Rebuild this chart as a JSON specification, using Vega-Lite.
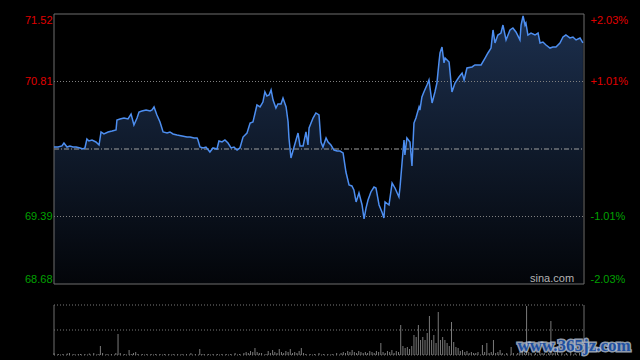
{
  "$schema": "https://vega.github.io/schema/vega-lite/v6.json",
  "width": 530,
  "height": 341,
  "autosize": {"type": "none"},
  "padding": {"left": 54, "top": 14, "right": 56, "bottom": 5},
  "background": "#000000",
  "config": {"view": {"stroke": null}, "axis": {"labelFont": "Liberation Sans", "labelFontSize": 11}},
  "datasets": {
    "price": [
      {"t":0,"p":70.121},{"t":1.8,"p":70.121},{"t":3.6,"p":70.132},{"t":4.5,"p":70.163},{"t":5.9,"p":70.121},{"t":7.2,"p":70.132},{"t":8.6,"p":70.121},{"t":10.0,"p":70.121},{"t":11.8,"p":70.111},{"t":13.1,"p":70.100},{"t":14.0,"p":70.111},{"t":14.9,"p":70.205},{"t":15.8,"p":70.184},{"t":17.2,"p":70.195},{"t":19.0,"p":70.174},{"t":20.4,"p":70.142},{"t":21.3,"p":70.279},{"t":22.6,"p":70.258},{"t":24.5,"p":70.279},{"t":26.3,"p":70.289},{"t":28.1,"p":70.300},{"t":28.5,"p":70.405},{"t":29.9,"p":70.416},{"t":31.7,"p":70.426},{"t":33.5,"p":70.416},{"t":34.9,"p":70.468},{"t":36.2,"p":70.352},{"t":37.6,"p":70.426},{"t":38.5,"p":70.489},{"t":39.8,"p":70.500},{"t":41.7,"p":70.510},{"t":43.5,"p":70.500},{"t":44.4,"p":70.510},{"t":45.3,"p":70.542},{"t":46.6,"p":70.458},{"t":48.0,"p":70.384},{"t":49.4,"p":70.279},{"t":51.2,"p":70.268},{"t":52.5,"p":70.279},{"t":53.9,"p":70.258},{"t":55.7,"p":70.247},{"t":58.0,"p":70.237},{"t":60.2,"p":70.226},{"t":61.6,"p":70.226},{"t":63.4,"p":70.216},{"t":64.8,"p":70.216},{"t":65.2,"p":70.195},{"t":66.1,"p":70.121},{"t":67.5,"p":70.111},{"t":68.8,"p":70.121},{"t":70.6,"p":70.068},{"t":72.0,"p":70.111},{"t":73.8,"p":70.100},{"t":74.7,"p":70.184},{"t":76.1,"p":70.174},{"t":77.4,"p":70.195},{"t":78.8,"p":70.163},{"t":80.2,"p":70.111},{"t":81.5,"p":70.121},{"t":82.9,"p":70.089},{"t":84.2,"p":70.111},{"t":85.6,"p":70.226},{"t":87.4,"p":70.268},{"t":88.8,"p":70.373},{"t":90.1,"p":70.384},{"t":91.9,"p":70.563},{"t":93.3,"p":70.542},{"t":94.6,"p":70.594},{"t":95.5,"p":70.700},{"t":96.4,"p":70.657},{"t":97.4,"p":70.668},{"t":98.3,"p":70.721},{"t":99.2,"p":70.615},{"t":100.5,"p":70.531},{"t":101.4,"p":70.573},{"t":102.8,"p":70.573},{"t":103.7,"p":70.636},{"t":105.1,"p":70.542},{"t":106.0,"p":70.384},{"t":106.4,"p":70.216},{"t":107.3,"p":70.005},{"t":108.7,"p":70.121},{"t":109.6,"p":70.195},{"t":110.5,"p":70.268},{"t":111.4,"p":70.132},{"t":112.8,"p":70.132},{"t":114.1,"p":70.279},{"t":115.0,"p":70.142},{"t":115.5,"p":70.321},{"t":117.3,"p":70.426},{"t":118.6,"p":70.479},{"t":120.0,"p":70.458},{"t":120.9,"p":70.174},{"t":121.8,"p":70.121},{"t":123.2,"p":70.216},{"t":124.1,"p":70.174},{"t":125.4,"p":70.142},{"t":126.8,"p":70.089},{"t":128.2,"p":70.079},{"t":129.5,"p":70.079},{"t":130.9,"p":70.058},{"t":132.2,"p":69.858},{"t":133.6,"p":69.721},{"t":134.9,"p":69.711},{"t":135.8,"p":69.669},{"t":136.8,"p":69.543},{"t":138.1,"p":69.637},{"t":139.5,"p":69.511},{"t":140.4,"p":69.364},{"t":141.3,"p":69.479},{"t":142.2,"p":69.564},{"t":143.5,"p":69.648},{"t":144.9,"p":69.700},{"t":145.8,"p":69.690},{"t":147.2,"p":69.511},{"t":148.5,"p":69.437},{"t":149.4,"p":69.374},{"t":149.9,"p":69.543},{"t":151.7,"p":69.511},{"t":153.1,"p":69.742},{"t":154.4,"p":69.690},{"t":156.2,"p":69.595},{"t":156.7,"p":69.700},{"t":157.6,"p":69.953},{"t":158.5,"p":70.195},{"t":158.9,"p":70.037},{"t":159.8,"p":70.216},{"t":161.2,"p":70.174},{"t":162.1,"p":69.921},{"t":163.0,"p":70.373},{"t":163.9,"p":70.426},{"t":165.3,"p":70.542},{"t":165.7,"p":70.510},{"t":166.6,"p":70.647},{"t":167.5,"p":70.700},{"t":168.9,"p":70.773},{"t":169.8,"p":70.826},{"t":171.2,"p":70.584},{"t":172.5,"p":70.700},{"t":173.4,"p":70.794},{"t":174.3,"p":71.005},{"t":174.8,"p":71.110},{"t":175.7,"p":71.173},{"t":176.6,"p":71.005},{"t":177.1,"p":71.057},{"t":178.9,"p":71.015},{"t":180.2,"p":70.700},{"t":181.6,"p":70.794},{"t":183.4,"p":70.857},{"t":184.8,"p":70.899},{"t":185.7,"p":70.826},{"t":187.0,"p":70.952},{"t":189.3,"p":70.963},{"t":190.6,"p":70.984},{"t":192.0,"p":70.984},{"t":193.4,"p":70.984},{"t":195.2,"p":71.057},{"t":196.5,"p":71.110},{"t":197.9,"p":71.162},{"t":198.8,"p":71.352},{"t":199.7,"p":71.215},{"t":201.0,"p":71.299},{"t":202.4,"p":71.320},{"t":203.3,"p":71.404},{"t":204.7,"p":71.247},{"t":206.5,"p":71.352},{"t":207.8,"p":71.373},{"t":209.2,"p":71.331},{"t":211.0,"p":71.247},{"t":211.5,"p":71.404},{"t":212.4,"p":71.499},{"t":213.3,"p":71.404},{"t":213.7,"p":71.425},{"t":214.6,"p":71.299},{"t":216.0,"p":71.320},{"t":217.8,"p":71.299},{"t":219.2,"p":71.320},{"t":220.1,"p":71.215},{"t":221.4,"p":71.225},{"t":222.8,"p":71.194},{"t":224.6,"p":71.162},{"t":225.9,"p":71.173},{"t":227.3,"p":71.173},{"t":229.1,"p":71.215},{"t":230.5,"p":71.278},{"t":231.8,"p":71.299},{"t":233.6,"p":71.268},{"t":235.0,"p":71.278},{"t":236.4,"p":71.247},{"t":238.2,"p":71.268},{"t":239.5,"p":71.215}
    ],
    "vol": [
      {"t":0,"v":4},{"t":2,"v":2},{"t":4,"v":2},{"t":6,"v":3},{"t":7,"v":4},{"t":9,"v":2},{"t":11,"v":2},{"t":12,"v":2},{"t":14,"v":2},{"t":16,"v":3},{"t":18,"v":4},{"t":20,"v":2},{"t":21,"v":18},{"t":22,"v":4},{"t":24,"v":2},{"t":26,"v":2},{"t":28,"v":4},{"t":29,"v":42},{"t":30,"v":4},{"t":32,"v":2},{"t":34,"v":10},{"t":35,"v":2},{"t":36,"v":4},{"t":37,"v":6},{"t":38,"v":2},{"t":40,"v":2},{"t":42,"v":2},{"t":44,"v":2},{"t":46,"v":2},{"t":48,"v":2},{"t":50,"v":2},{"t":52,"v":2},{"t":54,"v":2},{"t":56,"v":2},{"t":58,"v":2},{"t":60,"v":2},{"t":62,"v":4},{"t":64,"v":2},{"t":66,"v":12},{"t":67,"v":2},{"t":68,"v":2},{"t":70,"v":2},{"t":72,"v":2},{"t":74,"v":2},{"t":76,"v":2},{"t":78,"v":2},{"t":80,"v":2},{"t":82,"v":4},{"t":84,"v":2},{"t":86,"v":4},{"t":87,"v":6},{"t":88,"v":4},{"t":89,"v":8},{"t":90,"v":6},{"t":91,"v":14},{"t":92,"v":6},{"t":93,"v":4},{"t":94,"v":4},{"t":96,"v":2},{"t":97,"v":8},{"t":98,"v":4},{"t":99,"v":10},{"t":100,"v":6},{"t":101,"v":4},{"t":102,"v":12},{"t":103,"v":6},{"t":104,"v":4},{"t":105,"v":8},{"t":106,"v":6},{"t":107,"v":12},{"t":108,"v":4},{"t":109,"v":6},{"t":110,"v":4},{"t":111,"v":8},{"t":112,"v":14},{"t":113,"v":4},{"t":114,"v":2},{"t":116,"v":2},{"t":118,"v":2},{"t":120,"v":4},{"t":122,"v":2},{"t":124,"v":2},{"t":126,"v":2},{"t":128,"v":4},{"t":130,"v":4},{"t":131,"v":6},{"t":132,"v":4},{"t":133,"v":8},{"t":134,"v":6},{"t":135,"v":10},{"t":136,"v":6},{"t":137,"v":4},{"t":138,"v":8},{"t":139,"v":6},
      {"t":140,"v":4},{"t":141,"v":6},{"t":142,"v":4},{"t":143,"v":8},{"t":144,"v":6},{"t":145,"v":4},{"t":146,"v":8},{"t":147,"v":6},{"t":148,"v":24},{"t":149,"v":6},{"t":150,"v":4},{"t":151,"v":8},{"t":152,"v":6},{"t":153,"v":10},{"t":154,"v":4},{"t":155,"v":8},{"t":156,"v":6},
      {"t":157,"v":60},{"t":158,"v":18},{"t":159,"v":14},{"t":160,"v":16},{"t":161,"v":12},{"t":162,"v":18},{"t":163,"v":40},{"t":164,"v":36},{"t":165,"v":60},{"t":166,"v":30},{"t":167,"v":36},{"t":168,"v":30},{"t":169,"v":44},{"t":170,"v":78},{"t":171,"v":30},{"t":172,"v":40},{"t":173,"v":24},{"t":174,"v":86},{"t":175,"v":30},{"t":176,"v":36},{"t":177,"v":30},{"t":178,"v":24},{"t":179,"v":18},{"t":180,"v":66},{"t":181,"v":26},{"t":182,"v":16},{"t":183,"v":14},{"t":184,"v":8},{"t":185,"v":10},{"t":186,"v":6},{"t":187,"v":8},{"t":188,"v":4},{"t":189,"v":6},{"t":190,"v":4},{"t":191,"v":4},{"t":192,"v":6},{"t":194,"v":20},{"t":195,"v":6},{"t":196,"v":24},{"t":197,"v":4},{"t":198,"v":6},{"t":199,"v":30},{"t":200,"v":4},{"t":201,"v":6},{"t":202,"v":10},{"t":203,"v":4},{"t":205,"v":4},{"t":207,"v":16},{"t":208,"v":4},{"t":210,"v":4},{"t":211,"v":6},{"t":212,"v":10},{"t":213,"v":4},{"t":214,"v":98},{"t":215,"v":6},{"t":216,"v":4},{"t":218,"v":4},{"t":220,"v":6},{"t":221,"v":4},{"t":222,"v":4},{"t":224,"v":4},{"t":225,"v":68},{"t":226,"v":4},{"t":227,"v":4},{"t":228,"v":6},{"t":230,"v":4},{"t":232,"v":4},{"t":234,"v":6},{"t":236,"v":4},{"t":238,"v":4},{"t":240,"v":4}
    ],
    "pgrid": [{"g": 70.81}, {"g": 69.39}],
    "pframe": [{"g": 71.52}, {"g": 68.68}],
    "vgrid": [{"g": 0}, {"g": 50}, {"g": 100}],
    "edges": [{"e": 0}, {"e": 240}],
    "one": [{"k": 1}]
  },
  "layer": [
    {
      "data": {"name": "one"},
      "mark": {"type": "point", "opacity": 0},
      "encoding": {
        "y": {"datum": 70.1, "type": "quantitative", "scale": {"domain": [68.68, 71.52], "range": [270, 0], "zero": false, "nice": false},
          "axis": {"orient": "left", "title": null, "values": [68.68, 69.39, 70.81, 71.52], "format": ".2f", "labelFlush": true, "ticks": false, "domain": false, "grid": false, "labelPadding": 2,
            "labelColor": {"condition": {"test": "datum.value > 70.1", "value": "#e00000"}, "value": "#00a000"}}}
      }
    },
    {
      "data": {"name": "one"},
      "mark": {"type": "point", "opacity": 0},
      "encoding": {
        "y": {"datum": 0, "type": "quantitative", "scale": {"domain": [-2.03, 2.03], "range": [270, 0], "zero": false, "nice": false},
          "axis": {"orient": "right", "title": null, "values": [-2.03, -1.01, 1.01, 2.03], "labelExpr": "(datum.value < 0 ? '-' : '+') + format(abs(datum.value), '.2f') + '%'", "labelFlush": true, "ticks": false, "domain": false, "grid": false, "labelPadding": 6,
            "labelColor": {"condition": {"test": "datum.value > 0", "value": "#e00000"}, "value": "#00a000"}}}
      }
    },
    {
      "layer": [
        {
          "data": {"name": "price"},
          "mark": {"type": "area", "fill": {"gradient": "linear", "x1": 0, "y1": 0, "x2": 0, "y2": 1, "stops": [{"offset": 0, "color": "#1c2f4d"}, {"offset": 1, "color": "#030509"}]}, "stroke": null},
          "encoding": {
            "x": {"field": "t", "type": "quantitative", "scale": {"domain": [0, 240], "nice": false, "zero": false}, "axis": null},
            "y": {"field": "p", "type": "quantitative", "scale": {"domain": [68.68, 71.52], "range": [270, 0], "zero": false, "nice": false}, "axis": null},
            "y2": {"datum": 68.68}
          }
        },
        {
          "data": {"name": "pgrid"},
          "mark": {"type": "rule", "color": "#808080", "strokeWidth": 1, "strokeDash": [1, 2]},
          "encoding": {"y": {"field": "g", "type": "quantitative", "axis": null}, "x": {"datum": 0, "type": "quantitative", "axis": null}, "x2": {"datum": 240}}
        },
        {
          "data": {"name": "one"},
          "mark": {"type": "rule", "color": "#a0a0a0", "strokeWidth": 1, "strokeDash": [5, 2, 1, 2]},
          "encoding": {"y": {"datum": 70.10, "type": "quantitative", "axis": null}, "x": {"datum": 0, "type": "quantitative", "axis": null}, "x2": {"datum": 240}}
        },
        {
          "data": {"name": "pframe"},
          "mark": {"type": "rule", "color": "#6e6e6e", "strokeWidth": 1},
          "encoding": {"y": {"field": "g", "type": "quantitative", "axis": null}, "x": {"datum": 0, "type": "quantitative", "axis": null}, "x2": {"datum": 240}}
        },
        {
          "data": {"name": "edges"},
          "mark": {"type": "rule", "color": "#6e6e6e", "strokeWidth": 1},
          "encoding": {"x": {"field": "e", "type": "quantitative", "axis": null}, "y": {"datum": 68.68, "type": "quantitative", "axis": null}, "y2": {"datum": 71.52}}
        },
        {
          "data": {"name": "price"},
          "mark": {"type": "line", "color": "#4d8ef0", "strokeWidth": 1.5},
          "encoding": {
            "x": {"field": "t", "type": "quantitative", "axis": null},
            "y": {"field": "p", "type": "quantitative", "axis": null}
          }
        },
        {
          "data": {"name": "one"},
          "mark": {"type": "text", "text": "sina.com", "font": "Liberation Sans", "fontSize": 11, "color": "#b4b4b4", "align": "right", "baseline": "alphabetic"},
          "encoding": {"x": {"datum": 235.5, "type": "quantitative", "axis": null}, "y": {"datum": 68.70, "type": "quantitative", "axis": null}}
        }
      ]
    },
    {
      "layer": [
        {
          "data": {"name": "vol"},
          "mark": {"type": "rule", "color": "#7a7a7a", "strokeWidth": 1},
          "encoding": {
            "x": {"field": "t", "type": "quantitative", "axis": null},
            "y": {"field": "v", "type": "quantitative", "scale": {"domain": [0, 100], "range": [341, 291], "zero": false, "nice": false}, "axis": null},
            "y2": {"datum": 0}
          }
        },
        {
          "data": {"name": "vgrid"},
          "mark": {"type": "rule", "color": "#7a7a7a", "strokeWidth": 1, "strokeDash": [1, 2]},
          "encoding": {"y": {"field": "g", "type": "quantitative", "axis": null}, "x": {"datum": 0, "type": "quantitative", "axis": null}, "x2": {"datum": 240}}
        },
        {
          "data": {"name": "edges"},
          "mark": {"type": "rule", "color": "#6e6e6e", "strokeWidth": 1},
          "encoding": {"x": {"field": "e", "type": "quantitative", "axis": null}, "y": {"datum": 0, "type": "quantitative", "axis": null}, "y2": {"datum": 100}}
        },
        {
          "data": {"name": "one"},
          "mark": {"type": "text", "text": "www.365jz.com", "font": "Liberation Serif", "fontWeight": "bold", "fontSize": 17, "fill": "#1f4f9e", "stroke": "#b8c6dc", "strokeWidth": 3, "strokeOpacity": 0.8, "align": "center", "baseline": "middle"},
          "encoding": {"x": {"datum": 235.5, "type": "quantitative", "axis": null}, "y": {"datum": 18, "type": "quantitative", "axis": null}}
        },
        {
          "data": {"name": "one"},
          "mark": {"type": "text", "text": "www.365jz.com", "font": "Liberation Serif", "fontWeight": "bold", "fontSize": 17, "fill": "#1f4f9e", "align": "center", "baseline": "middle"},
          "encoding": {"x": {"datum": 235.5, "type": "quantitative", "axis": null}, "y": {"datum": 18, "type": "quantitative", "axis": null}}
        }
      ]
    }
  ],
  "resolve": {"scale": {"y": "independent"}, "axis": {"y": "independent"}}
}
